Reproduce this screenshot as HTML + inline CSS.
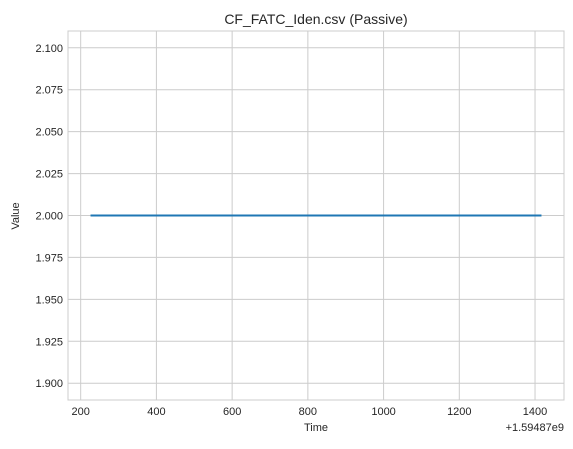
<!DOCTYPE html>
<html><head><meta charset="utf-8"><style>
body{margin:0;background:#fff;font-family:"Liberation Sans",sans-serif;}
svg text{font-family:"Liberation Sans",sans-serif;fill:#262626;}
</style></head><body>
<svg id="chart" width="573" height="444">
<g id="grid"></g>
<rect x="68" y="31" width="496" height="369" fill="none" stroke="#cccccc" stroke-width="1"/>
<g id="marks"></g>
<g id="ticks"></g>
<text x="316" y="24" text-anchor="middle" font-size="14">CF_FATC_Iden.csv (Passive)</text>
<text x="316" y="431" text-anchor="middle" font-size="11">Time</text>
<text x="19" y="216" text-anchor="middle" font-size="11" transform="rotate(-90 19 216)">Value</text>
<text x="564" y="431" text-anchor="end" font-size="11">+1.59487e9</text>
</svg>
<script>
const times=[226,1417];
const values=[2.0,2.0];
const xTicks=[200,400,600,800,1000,1200,1400];
const yTicks=[1.900,1.925,1.950,1.975,2.000,2.025,2.050,2.075,2.100];
const NS="http://www.w3.org/2000/svg";
const L=68,R=564,T=31,B=400;
const x0=166.5,x1=1476.5,y0=1.89,y1=2.11;
const sx=v=>L+(v-x0)/(x1-x0)*(R-L);
const sy=v=>B-(v-y0)/(y1-y0)*(B-T);
const grid=document.getElementById('grid'),ticks=document.getElementById('ticks'),marks=document.getElementById('marks');
function mk(t,a){const e=document.createElementNS(NS,t);for(const k in a)e.setAttribute(k,a[k]);return e;}
xTicks.forEach(v=>{
 const g=mk('line',{x1:sx(v),x2:sx(v),y1:T,y2:B,stroke:'#cccccc','stroke-width':1});
 
 
 grid.appendChild(g);
 const t=mk('text',{x:sx(v),y:B+15,'text-anchor':'middle','font-size':11});
 t.textContent=v;
 
 
 ticks.appendChild(t);
});
yTicks.forEach(v=>{
 const g=mk('line',{x1:L,x2:R,y1:sy(v),y2:sy(v),stroke:'#cccccc','stroke-width':1});
 
 
 grid.appendChild(g);
 const t=mk('text',{x:L-5,y:sy(v)+4,'text-anchor':'end','font-size':11});
 t.textContent=v.toFixed(3);
 
 
 ticks.appendChild(t);
});
const p=mk('polyline',{points:times.map((t,i)=>sx(t)+','+sy(values[i])).join(' '),fill:'none',stroke:'#1f77b4','stroke-width':2});


marks.appendChild(p);
</script>
</body></html>
